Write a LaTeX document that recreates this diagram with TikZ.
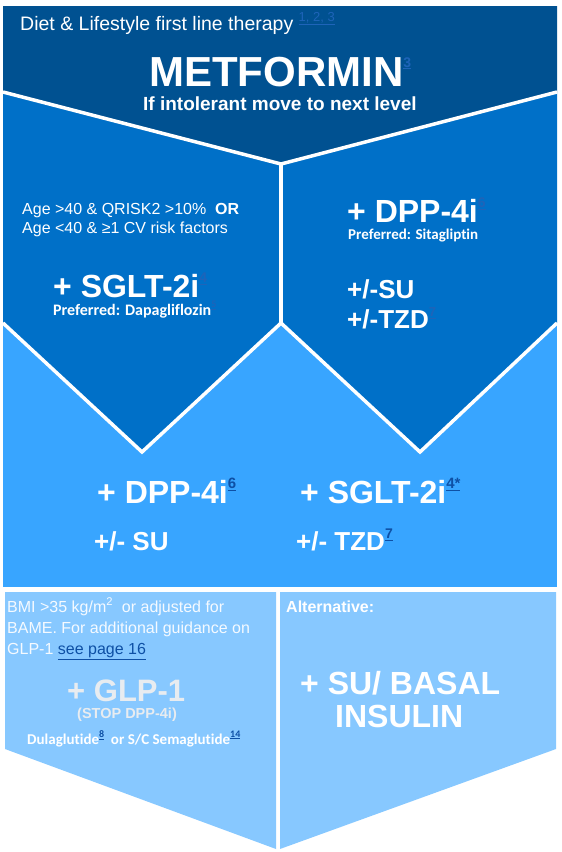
\documentclass[tikz,border=0pt]{standalone}
\usepackage{fontspec}
\setmainfont{Liberation Sans}
\newfontfamily\carlito[Ligatures=NoCommon]{Carlito}
\usepackage{xcolor}
\usepackage{tikz}
\definecolor{darkblue}{RGB}{0,81,145}
\definecolor{midblue}{RGB}{0,112,200}
\definecolor{skyblue}{RGB}{56,165,255}
\definecolor{paleblue}{RGB}{135,200,255}
\definecolor{refblue}{RGB}{30,100,185}
\definecolor{linkblue}{RGB}{14,80,165}
\definecolor{greywhite}{RGB}{232,236,240}
\definecolor{softwhite}{RGB}{245,250,255}
\newcommand{\pxfont}[1]{\fontsize{#1}{#1}\selectfont}
\newcommand{\refmark}[3]{\raisebox{0.45em}{\fontsize{#2}{#2}\selectfont\color{#1}\underline{#3}}}
\tikzset{
  divider/.style={draw=white, line width=3.5pt},
  lbl/.style={inner sep=0pt, anchor=base west, text=white},
}

\begin{document}
\begin{tikzpicture}[x=1pt,y=-1pt]
\useasboundingbox (0,0) rectangle (562,852);
% Draw the light blue band
\fill[skyblue] (3,300) rectangle (557,587);
% Draw the two second line panels
\fill[midblue] (3,92) -- (281,164) -- (281,323) -- (142,452) -- (3,323) -- cycle;
\fill[midblue] (281,164) -- (557,92) -- (557,323) -- (420,452) -- (281,323) -- cycle;
% Draw the metformin panel
\fill[darkblue] (3,6) -- (557,6) -- (557,92) -- (281,164) -- (3,92) -- cycle;
% Draw the white dividers
\draw[divider] (3,92) -- (281,164) -- (557,92);
\draw[divider] (281,164) -- (281,323);
\draw[divider] (3,323) -- (142,452) -- (281,323) -- (420,452) -- (557,323);
% Draw the bottom panels
\fill[paleblue] (5,592) -- (276,592) -- (276,849) -- (5,749) -- cycle;
\fill[paleblue] (280,592) -- (556,592) -- (556,749) -- (280,849) -- cycle;
% Labels, first line
\node[lbl,font=\pxfont{19.5}] (diet) at (20,30) {Diet \& Lifestyle first line therapy \refmark{refblue}{13}{1, 2, 3}};
\node[lbl,font=\bfseries\pxfont{42}] (metformin) at (149,86) {METFORMIN\refmark{refblue}{14}{3}};
\node[lbl,font=\bfseries\pxfont{19}] (intolerant) at (143,110) {If intolerant move to next level};
% Labels, second line left
\node[lbl,font=\pxfont{16}] (age1) at (22,214) {Age >40 \& QRISK2 >10\%\ \ \textbf{OR}};
\node[lbl,font=\pxfont{16}] (age2) at (22,233) {Age <40 \& ≥1 CV risk factors};
\node[lbl,font=\bfseries\pxfont{32}] (sglt) at (53,297) {+ SGLT-2i\refmark{refblue}{14}{4}};
\node[lbl,font=\carlito\bfseries\pxfont{16}] (dapa) at (53,315) {Preferred: Dapagliflozin\refmark{refblue}{10}{5}};
% Labels, second line right
\node[lbl,font=\bfseries\pxfont{32}] (dpp) at (347,222) {+ DPP-4i\refmark{refblue}{14}{6}};
\node[lbl,font=\carlito\bfseries\pxfont{15}] (sita) at (348,239) {Preferred: Sitagliptin};
\node[lbl,font=\bfseries\pxfont{26}] (su) at (347,298) {+/-SU};
\node[lbl,font=\bfseries\pxfont{26}] (tzd) at (347,328) {+/-TZD\refmark{refblue}{13}{7}};
% Labels, third line
\node[lbl,font=\bfseries\pxfont{32}] (banddpp) at (97,503) {+ DPP-4i\refmark{linkblue}{15}{6}};
\node[lbl,font=\bfseries\pxfont{32}] (bandsglt) at (300,503) {+ SGLT-2i\refmark{linkblue}{15}{4*}};
\node[lbl,font=\bfseries\pxfont{26}] (bandsu) at (94,550) {+/- SU};
\node[lbl,font=\bfseries\pxfont{26}] (bandtzd) at (296,550) {+/- TZD\refmark{linkblue}{14}{7}};
% Labels, bottom left
\node[lbl,text=softwhite,font=\pxfont{16}] (bmi1) at (7,612) {BMI >35 kg/m\textsuperscript{2}\ \ or adjusted for};
\node[lbl,text=softwhite,font=\pxfont{16}] (bmi2) at (7,633) {BAME. For additional guidance on};
\node[lbl,text=softwhite,font=\pxfont{16}] (bmi3) at (7,654) {GLP-1 \textcolor{linkblue}{\underline{see page 16}}};
\node[lbl,text=greywhite,font=\bfseries\pxfont{31}] (glp) at (67,701) {+ GLP-1};
\node[lbl,text=greywhite,font=\bfseries\pxfont{14.5}] (stop) at (77,718) {(STOP DPP-4i)};
\node[lbl,font=\carlito\bfseries\pxfont{15}] (dula) at (27,744) {Dulaglutide\refmark{linkblue}{10}{8}\ \ or S/C Semaglutide\refmark{linkblue}{10}{14}};
% Labels, bottom right
\node[lbl,font=\bfseries\pxfont{16}] (alt) at (286,612) {Alternative:};
\node[lbl,font=\bfseries\pxfont{32}] (basal) at (300,694) {+ SU/ BASAL};
\node[lbl,font=\bfseries\pxfont{32}] (insulin) at (335,727) {INSULIN};
\end{tikzpicture}
\end{document}
